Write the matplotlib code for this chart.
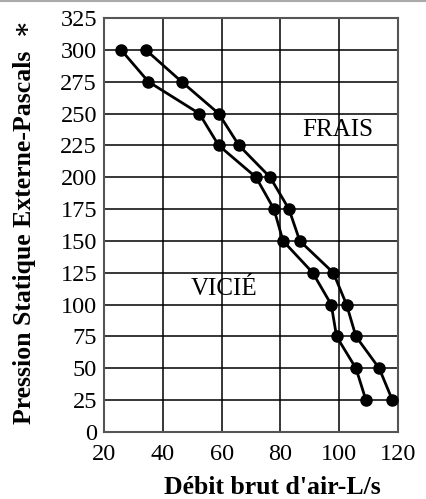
import matplotlib
matplotlib.use("Agg")
import matplotlib.pyplot as plt
from matplotlib.lines import Line2D

pressure = [300, 275, 250, 225, 200, 175, 150, 125, 100, 75, 50, 25]
vicie_flow = [25.8, 35.1, 52.4, 59.0, 71.7, 77.8, 80.9, 91.0, 97.3, 99.1, 105.7, 109.1]
frais_flow = [34.2, 46.4, 59.0, 65.9, 76.5, 82.9, 86.6, 98.0, 102.5, 105.7, 113.6, 118.1]
x_ticks = [20, 40, 60, 80, 100, 120]
y_ticks = [0, 25, 50, 75, 100, 125, 150, 175, 200, 225, 250, 275, 300, 325]

plt.rcParams['font.family'] = ['Liberation Serif', 'DejaVu Serif']

fig = plt.figure(figsize=(4.26, 4.99), dpi=100)
ax = fig.add_axes([104/426, 1 - 432/499, (398-104)/426, (432-18)/499])

for xs in (vicie_flow, frais_flow):
    ax.plot(xs, pressure, color='black', lw=2, marker='o', ms=8, zorder=3, clip_on=False)

ax.set_xlim(20, 120)
ax.set_ylim(0, 325)
ax.set_xticks(x_ticks)
ax.set_yticks(y_ticks)
ax.tick_params(length=0, labelsize=17.5)
ax.tick_params(axis='x', pad=9)
ax.tick_params(axis='y', pad=5)
ax.grid(True, color='black', lw=1.1)
ax.set_axisbelow(True)
for s in ax.spines.values():
    s.set_color('#555555')
    s.set_linewidth(1.5)

ax.text(99.6, 237, 'FRAIS', fontsize=18, ha='center', va='center')
ax.text(60.8, 112, 'VICIÉ', fontsize=18, ha='center', va='center')

ax.set_xlabel("Débit brut d'air-L/s", fontsize=18.5, fontweight='bold')
ax.xaxis.set_label_coords((272.5-104)/294, -(487-432)/414)
ax.xaxis.label.set_va('center')
ax.set_ylabel('Pression Statique Externe-Pascals  \u2217', fontsize=18.5, fontweight='bold')
ax.yaxis.set_label_coords((25-104)/294, (432-221.5)/414)
ax.yaxis.label.set_va('center')

fig.add_artist(Line2D([0, 1], [1 - 1/499, 1 - 1/499], transform=fig.transFigure, color='#aaaaaa', lw=1.5))

fig.savefig('out.png', dpi=100)
